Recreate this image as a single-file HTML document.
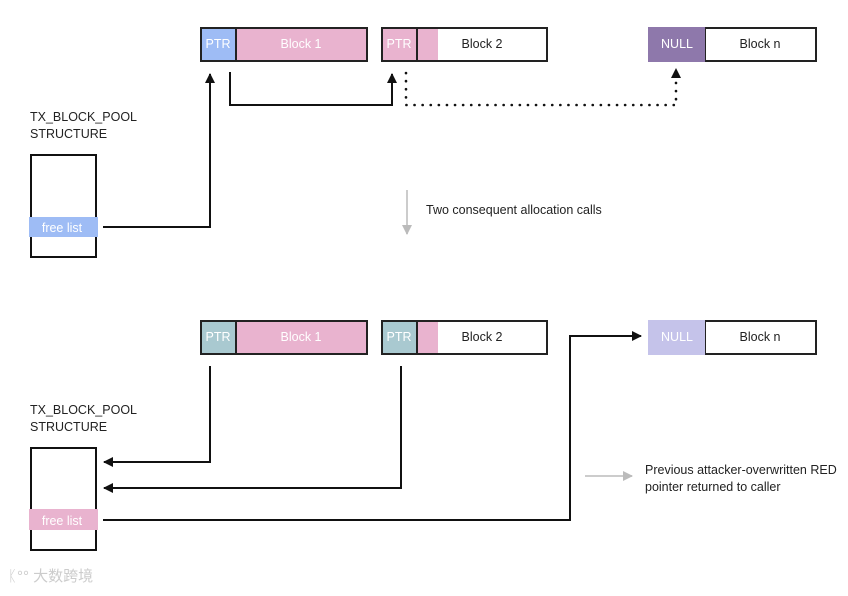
<!DOCTYPE html>
<html><head><style>
body{margin:0;background:#fff;}
svg text{font-family:"Liberation Sans",sans-serif;}
</style></head><body>
<svg width="848" height="591" xmlns="http://www.w3.org/2000/svg">
<defs>
<marker id="a" markerWidth="10" markerHeight="10" refX="9" refY="5" orient="auto" markerUnits="userSpaceOnUse"><path d="M0,0 L10,5 L0,10z" fill="#111"/></marker>
<marker id="g" markerWidth="10" markerHeight="10" refX="9" refY="5" orient="auto" markerUnits="userSpaceOnUse"><path d="M0,0 L10,5 L0,10z" fill="#bbb"/></marker>
</defs>
<g font-size="12.5">
<rect x="201" y="28" width="166" height="33" fill="#e9b3cf" stroke="#222" stroke-width="2"/>
<rect x="201" y="28" width="35" height="33" fill="#9ebcf5" stroke="#222" stroke-width="2"/>
<text x="218" y="48" fill="#fff" text-anchor="middle">PTR</text>
<text x="301" y="48" fill="#fff" text-anchor="middle">Block 1</text>
<rect x="382" y="28" width="165" height="33" fill="#fff" stroke="#222" stroke-width="2"/>
<rect x="383" y="29" width="55" height="31" fill="#e9b3cf"/>
<line x1="417" y1="28" x2="417" y2="61" stroke="#222" stroke-width="2"/>
<text x="399" y="48" fill="#fff" text-anchor="middle">PTR</text>
<text x="482" y="48" fill="#222" text-anchor="middle">Block 2</text>
<rect x="705" y="28" width="111" height="33" fill="#fff" stroke="#222" stroke-width="2"/>
<rect x="648" y="27" width="57" height="35" fill="#8e78ab"/>
<text x="677" y="48" fill="#fff" text-anchor="middle">NULL</text>
<text x="760" y="48" fill="#222" text-anchor="middle">Block n</text>
<text x="30" y="121" fill="#222">TX_BLOCK_POOL</text>
<text x="30" y="138" fill="#222">STRUCTURE</text>
<rect x="31" y="155" width="65" height="102" fill="#fff" stroke="#111" stroke-width="2"/>
<rect x="29" y="217" width="69" height="20" fill="#9ebcf5"/>
<text x="62" y="232" fill="#fff" text-anchor="middle">free list</text>
<g fill="none" stroke="#111" stroke-width="2">
<polyline points="103,227 210,227 210,74" marker-end="url(#a)"/>
<polyline points="230,72 230,105 392,105 392,74" marker-end="url(#a)"/>
<polyline points="406,73 406,105 676,105 676,74" stroke-dasharray="0.1,8" stroke-width="2.6" stroke-linecap="round"/>
</g>
<path d="M671,78 L676,68 L681,78z" fill="#111"/>
<line x1="407" y1="190" x2="407" y2="234" stroke="#ccc" stroke-width="2" marker-end="url(#g)"/>
<text x="426" y="214" fill="#222">Two consequent allocation calls</text>
<rect x="201" y="321" width="166" height="33" fill="#e9b3cf" stroke="#222" stroke-width="2"/>
<rect x="201" y="321" width="35" height="33" fill="#a9c9d0" stroke="#222" stroke-width="2"/>
<text x="218" y="341" fill="#fff" text-anchor="middle">PTR</text>
<text x="301" y="341" fill="#fff" text-anchor="middle">Block 1</text>
<rect x="382" y="321" width="165" height="33" fill="#fff" stroke="#222" stroke-width="2"/>
<rect x="383" y="322" width="55" height="31" fill="#e9b3cf"/>
<rect x="382" y="321" width="35" height="33" fill="#a9c9d0" stroke="#222" stroke-width="2"/>
<text x="399" y="341" fill="#fff" text-anchor="middle">PTR</text>
<text x="482" y="341" fill="#222" text-anchor="middle">Block 2</text>
<rect x="705" y="321" width="111" height="33" fill="#fff" stroke="#222" stroke-width="2"/>
<rect x="648" y="320" width="57" height="35" fill="#c5c3ea"/>
<text x="677" y="341" fill="#fff" text-anchor="middle">NULL</text>
<text x="760" y="341" fill="#222" text-anchor="middle">Block n</text>
<text x="30" y="414" fill="#222">TX_BLOCK_POOL</text>
<text x="30" y="431" fill="#222">STRUCTURE</text>
<rect x="31" y="448" width="65" height="102" fill="#fff" stroke="#111" stroke-width="2"/>
<rect x="29" y="509" width="69" height="21" fill="#e9b3cf"/>
<text x="62" y="525" fill="#fff" text-anchor="middle">free list</text>
<g fill="none" stroke="#111" stroke-width="2">
<polyline points="210,366 210,462 104,462" marker-end="url(#a)"/>
<polyline points="401,366 401,488 104,488" marker-end="url(#a)"/>
<polyline points="103,520 570,520 570,336 641,336" marker-end="url(#a)"/>
</g>
<line x1="585" y1="476" x2="632" y2="476" stroke="#ccc" stroke-width="2" marker-end="url(#g)"/>
<text x="645" y="474" fill="#222">Previous attacker-overwritten RED</text>
<text x="645" y="491" fill="#222">pointer returned to caller</text>
<text x="8" y="581" fill="#ccc" font-size="15" font-family="'Liberation Sans','Noto Sans CJK SC',sans-serif">ᛕ°° 大数跨境</text>
</g>
</svg>
</body></html>
